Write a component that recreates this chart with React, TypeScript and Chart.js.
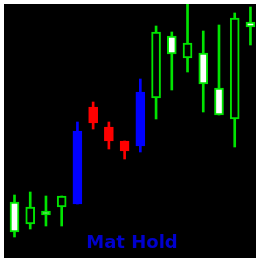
import React, { useEffect, useRef } from "react";
import { Chart, registerables } from "chart.js";

Chart.register(...registerables);

// Candle index along the x axis
const candleIndex = [0, 1, 2, 3, 4, 5, 6, 7, 8, 9, 10, 11, 12, 13, 14, 15];
// OHLC values (chart units)
const opens = [26, 51, 43, 62, 54, 151, 131, 117, 112, 226, 204, 215, 174, 143, 240, 231];
const highs = [63, 66, 62, 62, 136, 156, 136, 117, 179, 232, 226, 256, 227, 233, 245, 251];
const lows = [21, 29, 32, 32, 54, 129, 109, 99, 106, 139, 168, 186, 146, 143, 111, 213];
const closes = [56, 34, 47, 51, 127, 135, 117, 107, 166, 160, 222, 200, 205, 170, 139, 236];
// Candle role: "n" normal, "b" pattern bullish (blue), "r" pattern pause (red)
const roles = ["n", "n", "n", "n", "b", "r", "r", "r", "b", "n", "n", "n", "n", "n", "n", "n"];
const patternName = "Mat Hold";

const GREEN = "#00e400";
const BLUE = "#0000ff";
const RED = "#ff0000";

export default function App() {
  const ref = useRef<HTMLCanvasElement>(null);

  useEffect(() => {
    if (!ref.current) return;
    const lineColor = roles.map((r) => (r === "b" ? BLUE : r === "r" ? RED : GREEN));
    const fillColor = roles.map((r, i) =>
      r === "b" ? BLUE : r === "r" ? RED : closes[i] > opens[i] ? "#ffffff" : "#000000"
    );
    const bodies = candleIndex.map((x, i) => ({
      x,
      y: [Math.min(opens[i], closes[i]), Math.max(opens[i], closes[i])],
    }));
    const wicks = candleIndex.map((x, i) => ({ x, y: [lows[i], highs[i]] }));

    const chart = new Chart(ref.current, {
      type: "bar",
      data: {
        datasets: [
          {
            data: bodies as any,
            backgroundColor: fillColor,
            borderColor: lineColor,
            borderWidth: 2,
            borderSkipped: false,
            barThickness: 9,
            grouped: false,
            order: 0,
          } as any,
          {
            data: wicks as any,
            backgroundColor: lineColor,
            borderWidth: 0,
            barThickness: 2,
            grouped: false,
            order: 1,
          } as any,
        ],
      },
      options: {
        animation: false,
        responsive: false,
        maintainAspectRatio: false,
        layout: { padding: 0 },
        plugins: { legend: { display: false }, tooltip: { enabled: false }, title: { display: false } },
        scales: {
          x: { type: "linear", offset: false, min: -0.6675, max: 15.353, display: false },
          y: { type: "linear", min: 0, max: 254, display: false },
        },
      },
    });
    return () => chart.destroy();
  }, []);

  return (
    <div
      style={{
        position: "absolute",
        left: 4,
        top: 4,
        width: 252,
        height: 254,
        background: "#000000",
        overflow: "hidden",
      }}
    >
      <canvas ref={ref} width={252} height={254} style={{ display: "block" }} />
      <div
        style={{
          position: "absolute",
          left: 0,
          top: 229,
          width: 256,
          textAlign: "center",
          fontFamily: "'DejaVu Sans', sans-serif",
          fontWeight: "bold",
          fontSize: 18,
          lineHeight: "18px",
          color: "#0000cd",
        }}
      >
        {patternName}
      </div>
    </div>
  );
}
